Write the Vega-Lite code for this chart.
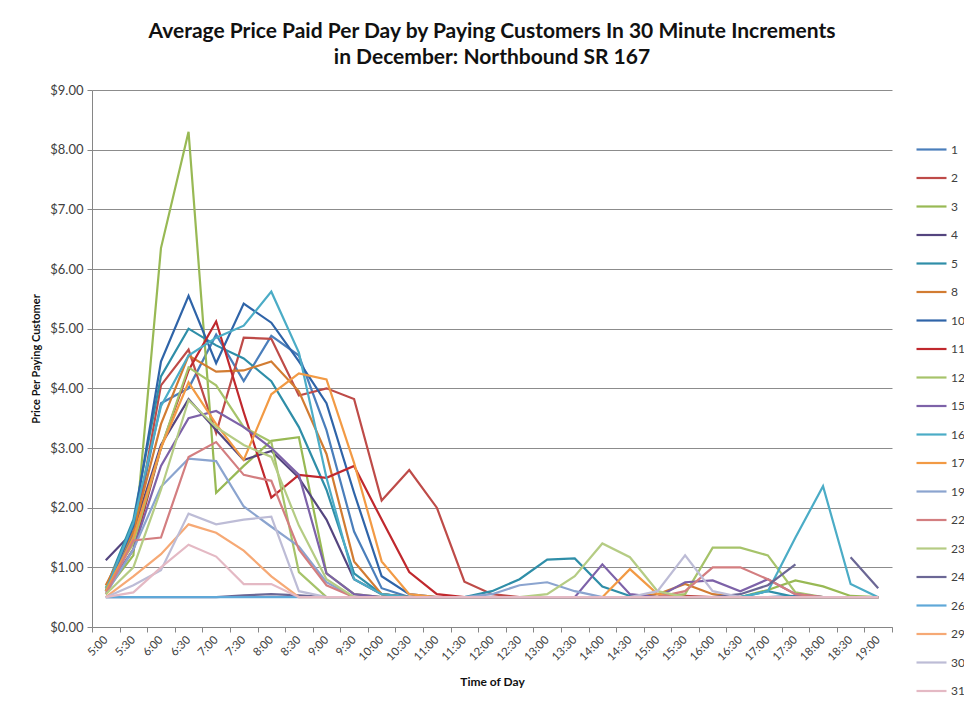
{
"$schema": "https://vega.github.io/schema/vega-lite/v6.json",
"width": 800, "height": 537,
"autosize": {"type": "none"},
"padding": {"left": 92, "top": 90, "right": 72, "bottom": 80},
"background": "white",
"title": {"text": ["Average Price Paid Per Day by Paying Customers In 30 Minute Increments", "in December: Northbound SR 167"], "font": "Lato", "fontSize": 21, "fontWeight": "bold", "color": "#111111", "lineHeight": 26, "anchor": "middle", "offset": 16},
"data": {"values": [
{"d":"1","t":"5:00","p":0.6},{"d":"1","t":"5:30","p":1.55},{"d":"1","t":"6:00","p":3.75},{"d":"1","t":"6:30","p":4.0},{"d":"1","t":"7:00","p":4.9},{"d":"1","t":"7:30","p":4.12},{"d":"1","t":"8:00","p":4.88},{"d":"1","t":"8:30","p":4.55},{"d":"1","t":"9:00","p":3.3},{"d":"1","t":"9:30","p":1.6},{"d":"1","t":"10:00","p":0.65},{"d":"1","t":"10:30","p":0.5},{"d":"1","t":"11:00","p":0.5},{"d":"1","t":"11:30","p":0.5},{"d":"1","t":"12:00","p":0.5},{"d":"1","t":"12:30","p":0.5},{"d":"1","t":"13:00","p":0.5},{"d":"1","t":"13:30","p":0.5},{"d":"1","t":"14:00","p":0.5},{"d":"1","t":"14:30","p":0.5},{"d":"1","t":"15:00","p":0.5},{"d":"1","t":"15:30","p":0.5},{"d":"1","t":"16:00","p":0.5},{"d":"1","t":"16:30","p":0.5},{"d":"1","t":"17:00","p":0.5},{"d":"1","t":"17:30","p":0.52},{"d":"1","t":"18:00","p":0.5},{"d":"1","t":"18:30","p":0.5},{"d":"1","t":"19:00","p":0.5},
{"d":"2","t":"5:00","p":0.6},{"d":"2","t":"5:30","p":1.45},{"d":"2","t":"6:00","p":4.05},{"d":"2","t":"6:30","p":4.65},{"d":"2","t":"7:00","p":3.25},{"d":"2","t":"7:30","p":4.85},{"d":"2","t":"8:00","p":4.83},{"d":"2","t":"8:30","p":3.88},{"d":"2","t":"9:00","p":4.0},{"d":"2","t":"9:30","p":3.82},{"d":"2","t":"10:00","p":2.12},{"d":"2","t":"10:30","p":2.63},{"d":"2","t":"11:00","p":2.0},{"d":"2","t":"11:30","p":0.76},{"d":"2","t":"12:00","p":0.55},{"d":"2","t":"12:30","p":0.5},{"d":"2","t":"13:00","p":0.5},{"d":"2","t":"13:30","p":0.5},{"d":"2","t":"14:00","p":0.5},{"d":"2","t":"14:30","p":0.5},{"d":"2","t":"15:00","p":0.5},{"d":"2","t":"15:30","p":0.52},{"d":"2","t":"16:00","p":0.5},{"d":"2","t":"16:30","p":0.5},{"d":"2","t":"17:00","p":0.5},{"d":"2","t":"17:30","p":0.5},{"d":"2","t":"18:00","p":0.5},{"d":"2","t":"18:30","p":0.5},{"d":"2","t":"19:00","p":0.5},
{"d":"3","t":"5:00","p":0.6},{"d":"3","t":"5:30","p":1.2},{"d":"3","t":"6:00","p":6.35},{"d":"3","t":"6:30","p":8.3},{"d":"3","t":"7:00","p":2.25},{"d":"3","t":"7:30","p":2.7},{"d":"3","t":"8:00","p":3.12},{"d":"3","t":"8:30","p":3.18},{"d":"3","t":"9:00","p":0.9},{"d":"3","t":"9:30","p":0.55},{"d":"3","t":"10:00","p":0.5},{"d":"3","t":"10:30","p":0.5},{"d":"3","t":"11:00","p":0.5},{"d":"3","t":"11:30","p":0.5},{"d":"3","t":"12:00","p":0.5},{"d":"3","t":"12:30","p":0.5},{"d":"3","t":"13:00","p":0.5},{"d":"3","t":"13:30","p":0.5},{"d":"3","t":"14:00","p":0.5},{"d":"3","t":"14:30","p":0.5},{"d":"3","t":"15:00","p":0.5},{"d":"3","t":"15:30","p":0.5},{"d":"3","t":"16:00","p":0.5},{"d":"3","t":"16:30","p":0.5},{"d":"3","t":"17:00","p":0.62},{"d":"3","t":"17:30","p":0.78},{"d":"3","t":"18:00","p":0.68},{"d":"3","t":"18:30","p":0.52},{"d":"3","t":"19:00","p":0.5},
{"d":"4","t":"5:00","p":1.12},{"d":"4","t":"5:30","p":1.6},{"d":"4","t":"6:00","p":3.05},{"d":"4","t":"6:30","p":3.82},{"d":"4","t":"7:00","p":3.3},{"d":"4","t":"7:30","p":2.8},{"d":"4","t":"8:00","p":2.95},{"d":"4","t":"8:30","p":2.5},{"d":"4","t":"9:00","p":1.8},{"d":"4","t":"9:30","p":0.8},{"d":"4","t":"10:00","p":0.55},{"d":"4","t":"10:30","p":0.5},{"d":"4","t":"11:00","p":0.5},{"d":"4","t":"11:30","p":0.5},{"d":"4","t":"12:00","p":0.5},{"d":"4","t":"12:30","p":0.5},{"d":"4","t":"13:00","p":0.5},{"d":"4","t":"13:30","p":0.5},{"d":"4","t":"14:00","p":0.5},{"d":"4","t":"14:30","p":0.5},{"d":"4","t":"15:00","p":0.5},{"d":"4","t":"15:30","p":0.5},{"d":"4","t":"16:00","p":0.5},{"d":"4","t":"16:30","p":0.5},{"d":"4","t":"17:00","p":0.5},{"d":"4","t":"17:30","p":0.5},{"d":"4","t":"18:00","p":0.5},{"d":"4","t":"18:30","p":0.5},{"d":"4","t":"19:00","p":0.5},
{"d":"5","t":"5:00","p":0.65},{"d":"5","t":"5:30","p":1.8},{"d":"5","t":"6:00","p":4.2},{"d":"5","t":"6:30","p":5.0},{"d":"5","t":"7:00","p":4.72},{"d":"5","t":"7:30","p":4.5},{"d":"5","t":"8:00","p":4.12},{"d":"5","t":"8:30","p":3.35},{"d":"5","t":"9:00","p":2.3},{"d":"5","t":"9:30","p":0.9},{"d":"5","t":"10:00","p":0.55},{"d":"5","t":"10:30","p":0.5},{"d":"5","t":"11:00","p":0.5},{"d":"5","t":"11:30","p":0.5},{"d":"5","t":"12:00","p":0.6},{"d":"5","t":"12:30","p":0.8},{"d":"5","t":"13:00","p":1.13},{"d":"5","t":"13:30","p":1.15},{"d":"5","t":"14:00","p":0.68},{"d":"5","t":"14:30","p":0.52},{"d":"5","t":"15:00","p":0.5},{"d":"5","t":"15:30","p":0.5},{"d":"5","t":"16:00","p":0.5},{"d":"5","t":"16:30","p":0.5},{"d":"5","t":"17:00","p":0.6},{"d":"5","t":"17:30","p":0.5},{"d":"5","t":"18:00","p":0.5},{"d":"5","t":"18:30","p":0.5},{"d":"5","t":"19:00","p":0.5},
{"d":"8","t":"5:00","p":0.7},{"d":"8","t":"5:30","p":1.6},{"d":"8","t":"6:00","p":3.4},{"d":"8","t":"6:30","p":4.55},{"d":"8","t":"7:00","p":4.28},{"d":"8","t":"7:30","p":4.3},{"d":"8","t":"8:00","p":4.45},{"d":"8","t":"8:30","p":3.95},{"d":"8","t":"9:00","p":2.9},{"d":"8","t":"9:30","p":1.1},{"d":"8","t":"10:00","p":0.55},{"d":"8","t":"10:30","p":0.5},{"d":"8","t":"11:00","p":0.5},{"d":"8","t":"11:30","p":0.5},{"d":"8","t":"12:00","p":0.5},{"d":"8","t":"12:30","p":0.5},{"d":"8","t":"13:00","p":0.5},{"d":"8","t":"13:30","p":0.5},{"d":"8","t":"14:00","p":0.5},{"d":"8","t":"14:30","p":0.5},{"d":"8","t":"15:00","p":0.55},{"d":"8","t":"15:30","p":0.72},{"d":"8","t":"16:00","p":0.55},{"d":"8","t":"16:30","p":0.5},{"d":"8","t":"17:00","p":0.5},{"d":"8","t":"17:30","p":0.5},{"d":"8","t":"18:00","p":0.5},{"d":"8","t":"18:30","p":0.5},{"d":"8","t":"19:00","p":0.5},
{"d":"10","t":"5:00","p":0.6},{"d":"10","t":"5:30","p":1.7},{"d":"10","t":"6:00","p":4.45},{"d":"10","t":"6:30","p":5.55},{"d":"10","t":"7:00","p":4.42},{"d":"10","t":"7:30","p":5.42},{"d":"10","t":"8:00","p":5.1},{"d":"10","t":"8:30","p":4.45},{"d":"10","t":"9:00","p":3.75},{"d":"10","t":"9:30","p":2.25},{"d":"10","t":"10:00","p":0.85},{"d":"10","t":"10:30","p":0.55},{"d":"10","t":"11:00","p":0.5},{"d":"10","t":"11:30","p":0.5},{"d":"10","t":"12:00","p":0.5},{"d":"10","t":"12:30","p":0.5},{"d":"10","t":"13:00","p":0.5},{"d":"10","t":"13:30","p":0.5},{"d":"10","t":"14:00","p":0.5},{"d":"10","t":"14:30","p":0.5},{"d":"10","t":"15:00","p":0.5},{"d":"10","t":"15:30","p":0.5},{"d":"10","t":"16:00","p":0.5},{"d":"10","t":"16:30","p":0.5},{"d":"10","t":"17:00","p":0.5},{"d":"10","t":"17:30","p":0.5},{"d":"10","t":"18:00","p":0.5},{"d":"10","t":"18:30","p":0.5},{"d":"10","t":"19:00","p":0.5},
{"d":"11","t":"5:00","p":0.6},{"d":"11","t":"5:30","p":1.3},{"d":"11","t":"6:00","p":3.0},{"d":"11","t":"6:30","p":4.3},{"d":"11","t":"7:00","p":5.12},{"d":"11","t":"7:30","p":3.6},{"d":"11","t":"8:00","p":2.17},{"d":"11","t":"8:30","p":2.55},{"d":"11","t":"9:00","p":2.5},{"d":"11","t":"9:30","p":2.7},{"d":"11","t":"10:00","p":1.8},{"d":"11","t":"10:30","p":0.92},{"d":"11","t":"11:00","p":0.55},{"d":"11","t":"11:30","p":0.5},{"d":"11","t":"12:00","p":0.5},{"d":"11","t":"12:30","p":0.5},{"d":"11","t":"13:00","p":0.5},{"d":"11","t":"13:30","p":0.5},{"d":"11","t":"14:00","p":0.5},{"d":"11","t":"14:30","p":0.5},{"d":"11","t":"15:00","p":0.5},{"d":"11","t":"15:30","p":0.5},{"d":"11","t":"16:00","p":0.5},{"d":"11","t":"16:30","p":0.5},{"d":"11","t":"17:00","p":0.5},{"d":"11","t":"17:30","p":0.5},{"d":"11","t":"18:00","p":0.5},{"d":"11","t":"18:30","p":0.5},{"d":"11","t":"19:00","p":0.5},
{"d":"12","t":"5:00","p":0.65},{"d":"12","t":"5:30","p":1.4},{"d":"12","t":"6:00","p":3.0},{"d":"12","t":"6:30","p":4.35},{"d":"12","t":"7:00","p":4.05},{"d":"12","t":"7:30","p":3.35},{"d":"12","t":"8:00","p":3.1},{"d":"12","t":"8:30","p":0.92},{"d":"12","t":"9:00","p":0.5},{"d":"12","t":"9:30","p":0.5},{"d":"12","t":"10:00","p":0.5},{"d":"12","t":"10:30","p":0.5},{"d":"12","t":"11:00","p":0.5},{"d":"12","t":"11:30","p":0.5},{"d":"12","t":"12:00","p":0.5},{"d":"12","t":"12:30","p":0.5},{"d":"12","t":"13:00","p":0.5},{"d":"12","t":"13:30","p":0.5},{"d":"12","t":"14:00","p":0.5},{"d":"12","t":"14:30","p":0.5},{"d":"12","t":"15:00","p":0.5},{"d":"12","t":"15:30","p":0.55},{"d":"12","t":"16:00","p":1.33},{"d":"12","t":"16:30","p":1.33},{"d":"12","t":"17:00","p":1.2},{"d":"12","t":"17:30","p":0.58},{"d":"12","t":"18:00","p":0.5},{"d":"12","t":"18:30","p":0.5},{"d":"12","t":"19:00","p":0.5},
{"d":"15","t":"5:00","p":0.6},{"d":"15","t":"5:30","p":1.3},{"d":"15","t":"6:00","p":2.7},{"d":"15","t":"6:30","p":3.5},{"d":"15","t":"7:00","p":3.62},{"d":"15","t":"7:30","p":3.35},{"d":"15","t":"8:00","p":3.0},{"d":"15","t":"8:30","p":2.55},{"d":"15","t":"9:00","p":0.9},{"d":"15","t":"9:30","p":0.55},{"d":"15","t":"10:00","p":0.5},{"d":"15","t":"10:30","p":0.5},{"d":"15","t":"11:00","p":0.5},{"d":"15","t":"11:30","p":0.5},{"d":"15","t":"12:00","p":0.5},{"d":"15","t":"12:30","p":0.5},{"d":"15","t":"13:00","p":0.5},{"d":"15","t":"13:30","p":0.5},{"d":"15","t":"14:00","p":1.05},{"d":"15","t":"14:30","p":0.55},{"d":"15","t":"15:00","p":0.5},{"d":"15","t":"15:30","p":0.75},{"d":"15","t":"16:00","p":0.78},{"d":"15","t":"16:30","p":0.6},{"d":"15","t":"17:00","p":0.8},{"d":"15","t":"17:30","p":0.55},{"d":"15","t":"18:00","p":0.5},{"d":"15","t":"18:30","p":0.5},{"d":"15","t":"19:00","p":0.5},
{"d":"16","t":"5:00","p":0.6},{"d":"16","t":"5:30","p":1.75},{"d":"16","t":"6:00","p":3.7},{"d":"16","t":"6:30","p":4.55},{"d":"16","t":"7:00","p":4.85},{"d":"16","t":"7:30","p":5.05},{"d":"16","t":"8:00","p":5.62},{"d":"16","t":"8:30","p":4.6},{"d":"16","t":"9:00","p":2.5},{"d":"16","t":"9:30","p":0.8},{"d":"16","t":"10:00","p":0.55},{"d":"16","t":"10:30","p":0.5},{"d":"16","t":"11:00","p":0.5},{"d":"16","t":"11:30","p":0.5},{"d":"16","t":"12:00","p":0.5},{"d":"16","t":"12:30","p":0.5},{"d":"16","t":"13:00","p":0.5},{"d":"16","t":"13:30","p":0.5},{"d":"16","t":"14:00","p":0.5},{"d":"16","t":"14:30","p":0.5},{"d":"16","t":"15:00","p":0.5},{"d":"16","t":"15:30","p":0.5},{"d":"16","t":"16:00","p":0.5},{"d":"16","t":"16:30","p":0.5},{"d":"16","t":"17:00","p":0.6},{"d":"16","t":"17:30","p":1.5},{"d":"16","t":"18:00","p":2.36},{"d":"16","t":"18:30","p":0.72},{"d":"16","t":"19:00","p":0.5},
{"d":"17","t":"5:00","p":0.6},{"d":"17","t":"5:30","p":1.5},{"d":"17","t":"6:00","p":3.0},{"d":"17","t":"6:30","p":4.1},{"d":"17","t":"7:00","p":3.4},{"d":"17","t":"7:30","p":2.8},{"d":"17","t":"8:00","p":3.9},{"d":"17","t":"8:30","p":4.25},{"d":"17","t":"9:00","p":4.15},{"d":"17","t":"9:30","p":2.75},{"d":"17","t":"10:00","p":1.1},{"d":"17","t":"10:30","p":0.55},{"d":"17","t":"11:00","p":0.5},{"d":"17","t":"11:30","p":0.5},{"d":"17","t":"12:00","p":0.5},{"d":"17","t":"12:30","p":0.5},{"d":"17","t":"13:00","p":0.5},{"d":"17","t":"13:30","p":0.5},{"d":"17","t":"14:00","p":0.5},{"d":"17","t":"14:30","p":0.97},{"d":"17","t":"15:00","p":0.55},{"d":"17","t":"15:30","p":0.5},{"d":"17","t":"16:00","p":0.5},{"d":"17","t":"16:30","p":0.5},{"d":"17","t":"17:00","p":0.5},{"d":"17","t":"17:30","p":0.5},{"d":"17","t":"18:00","p":0.5},{"d":"17","t":"18:30","p":0.5},{"d":"17","t":"19:00","p":0.5},
{"d":"19","t":"5:00","p":0.55},{"d":"19","t":"5:30","p":1.3},{"d":"19","t":"6:00","p":2.35},{"d":"19","t":"6:30","p":2.82},{"d":"19","t":"7:00","p":2.78},{"d":"19","t":"7:30","p":2.02},{"d":"19","t":"8:00","p":1.68},{"d":"19","t":"8:30","p":1.35},{"d":"19","t":"9:00","p":0.75},{"d":"19","t":"9:30","p":0.5},{"d":"19","t":"10:00","p":0.5},{"d":"19","t":"10:30","p":0.5},{"d":"19","t":"11:00","p":0.5},{"d":"19","t":"11:30","p":0.5},{"d":"19","t":"12:00","p":0.55},{"d":"19","t":"12:30","p":0.7},{"d":"19","t":"13:00","p":0.75},{"d":"19","t":"13:30","p":0.6},{"d":"19","t":"14:00","p":0.5},{"d":"19","t":"14:30","p":0.5},{"d":"19","t":"15:00","p":0.5},{"d":"19","t":"15:30","p":0.5},{"d":"19","t":"16:00","p":0.5},{"d":"19","t":"16:30","p":0.5},{"d":"19","t":"17:00","p":0.5},{"d":"19","t":"17:30","p":0.5},{"d":"19","t":"18:00","p":0.5},{"d":"19","t":"18:30","p":0.5},{"d":"19","t":"19:00","p":0.5},
{"d":"22","t":"5:00","p":0.55},{"d":"22","t":"5:30","p":1.45},{"d":"22","t":"6:00","p":1.5},{"d":"22","t":"6:30","p":2.85},{"d":"22","t":"7:00","p":3.1},{"d":"22","t":"7:30","p":2.55},{"d":"22","t":"8:00","p":2.45},{"d":"22","t":"8:30","p":1.3},{"d":"22","t":"9:00","p":0.7},{"d":"22","t":"9:30","p":0.5},{"d":"22","t":"10:00","p":0.5},{"d":"22","t":"10:30","p":0.5},{"d":"22","t":"11:00","p":0.5},{"d":"22","t":"11:30","p":0.5},{"d":"22","t":"12:00","p":0.5},{"d":"22","t":"12:30","p":0.5},{"d":"22","t":"13:00","p":0.5},{"d":"22","t":"13:30","p":0.5},{"d":"22","t":"14:00","p":0.5},{"d":"22","t":"14:30","p":0.5},{"d":"22","t":"15:00","p":0.5},{"d":"22","t":"15:30","p":0.6},{"d":"22","t":"16:00","p":1.0},{"d":"22","t":"16:30","p":1.0},{"d":"22","t":"17:00","p":0.8},{"d":"22","t":"17:30","p":0.55},{"d":"22","t":"18:00","p":0.5},{"d":"22","t":"18:30","p":0.5},{"d":"22","t":"19:00","p":0.5},
{"d":"23","t":"5:00","p":0.55},{"d":"23","t":"5:30","p":1.0},{"d":"23","t":"6:00","p":2.3},{"d":"23","t":"6:30","p":3.8},{"d":"23","t":"7:00","p":3.35},{"d":"23","t":"7:30","p":3.05},{"d":"23","t":"8:00","p":2.85},{"d":"23","t":"8:30","p":1.7},{"d":"23","t":"9:00","p":0.8},{"d":"23","t":"9:30","p":0.5},{"d":"23","t":"10:00","p":0.5},{"d":"23","t":"10:30","p":0.5},{"d":"23","t":"11:00","p":0.5},{"d":"23","t":"11:30","p":0.5},{"d":"23","t":"12:00","p":0.5},{"d":"23","t":"12:30","p":0.5},{"d":"23","t":"13:00","p":0.55},{"d":"23","t":"13:30","p":0.85},{"d":"23","t":"14:00","p":1.4},{"d":"23","t":"14:30","p":1.17},{"d":"23","t":"15:00","p":0.6},{"d":"23","t":"15:30","p":0.5},{"d":"23","t":"16:00","p":0.5},{"d":"23","t":"16:30","p":0.5},{"d":"23","t":"17:00","p":0.5},{"d":"23","t":"17:30","p":0.5},{"d":"23","t":"18:00","p":0.5},{"d":"23","t":"18:30","p":0.5},{"d":"23","t":"19:00","p":0.5},
{"d":"24","t":"5:00","p":0.5},{"d":"24","t":"5:30","p":0.5},{"d":"24","t":"6:00","p":0.5},{"d":"24","t":"6:30","p":0.5},{"d":"24","t":"7:00","p":0.5},{"d":"24","t":"7:30","p":0.53},{"d":"24","t":"8:00","p":0.55},{"d":"24","t":"8:30","p":0.53},{"d":"24","t":"9:00","p":0.5},{"d":"24","t":"9:30","p":0.5},{"d":"24","t":"10:00","p":0.5},{"d":"24","t":"10:30","p":0.5},{"d":"24","t":"11:00","p":0.5},{"d":"24","t":"11:30","p":0.5},{"d":"24","t":"12:00","p":0.5},{"d":"24","t":"12:30","p":0.5},{"d":"24","t":"13:00","p":0.5},{"d":"24","t":"13:30","p":0.5},{"d":"24","t":"14:00","p":0.5},{"d":"24","t":"14:30","p":0.5},{"d":"24","t":"15:00","p":0.5},{"d":"24","t":"15:30","p":0.5},{"d":"24","t":"16:00","p":0.5},{"d":"24","t":"16:30","p":0.55},{"d":"24","t":"17:00","p":0.7},{"d":"24","t":"17:30","p":1.05},{"d":"24","t":"18:00","p":null},{"d":"24","t":"18:30","p":1.17},{"d":"24","t":"19:00","p":0.65},
{"d":"26","t":"5:00","p":0.5},{"d":"26","t":"5:30","p":0.5},{"d":"26","t":"6:00","p":0.5},{"d":"26","t":"6:30","p":0.5},{"d":"26","t":"7:00","p":0.5},{"d":"26","t":"7:30","p":0.5},{"d":"26","t":"8:00","p":0.5},{"d":"26","t":"8:30","p":0.5},{"d":"26","t":"9:00","p":0.5},{"d":"26","t":"9:30","p":0.5},{"d":"26","t":"10:00","p":0.5},{"d":"26","t":"10:30","p":0.5},{"d":"26","t":"11:00","p":0.5},{"d":"26","t":"11:30","p":0.5},{"d":"26","t":"12:00","p":0.5},{"d":"26","t":"12:30","p":0.5},{"d":"26","t":"13:00","p":0.5},{"d":"26","t":"13:30","p":0.5},{"d":"26","t":"14:00","p":0.5},{"d":"26","t":"14:30","p":0.5},{"d":"26","t":"15:00","p":0.5},{"d":"26","t":"15:30","p":0.5},{"d":"26","t":"16:00","p":0.5},{"d":"26","t":"16:30","p":0.5},{"d":"26","t":"17:00","p":0.5},{"d":"26","t":"17:30","p":0.5},{"d":"26","t":"18:00","p":0.5},{"d":"26","t":"18:30","p":0.5},{"d":"26","t":"19:00","p":0.5},
{"d":"29","t":"5:00","p":0.5},{"d":"29","t":"5:30","p":0.85},{"d":"29","t":"6:00","p":1.22},{"d":"29","t":"6:30","p":1.72},{"d":"29","t":"7:00","p":1.58},{"d":"29","t":"7:30","p":1.28},{"d":"29","t":"8:00","p":0.85},{"d":"29","t":"8:30","p":0.5},{"d":"29","t":"9:00","p":0.5},{"d":"29","t":"9:30","p":0.5},{"d":"29","t":"10:00","p":0.5},{"d":"29","t":"10:30","p":0.5},{"d":"29","t":"11:00","p":0.5},{"d":"29","t":"11:30","p":0.5},{"d":"29","t":"12:00","p":0.5},{"d":"29","t":"12:30","p":0.5},{"d":"29","t":"13:00","p":0.5},{"d":"29","t":"13:30","p":0.5},{"d":"29","t":"14:00","p":0.5},{"d":"29","t":"14:30","p":0.5},{"d":"29","t":"15:00","p":0.5},{"d":"29","t":"15:30","p":0.5},{"d":"29","t":"16:00","p":0.5},{"d":"29","t":"16:30","p":0.5},{"d":"29","t":"17:00","p":0.5},{"d":"29","t":"17:30","p":0.5},{"d":"29","t":"18:00","p":0.5},{"d":"29","t":"18:30","p":0.5},{"d":"29","t":"19:00","p":0.5},
{"d":"30","t":"5:00","p":0.5},{"d":"30","t":"5:30","p":0.7},{"d":"30","t":"6:00","p":0.95},{"d":"30","t":"6:30","p":1.9},{"d":"30","t":"7:00","p":1.72},{"d":"30","t":"7:30","p":1.8},{"d":"30","t":"8:00","p":1.85},{"d":"30","t":"8:30","p":0.6},{"d":"30","t":"9:00","p":0.5},{"d":"30","t":"9:30","p":0.5},{"d":"30","t":"10:00","p":0.5},{"d":"30","t":"10:30","p":0.5},{"d":"30","t":"11:00","p":0.5},{"d":"30","t":"11:30","p":0.5},{"d":"30","t":"12:00","p":0.5},{"d":"30","t":"12:30","p":0.5},{"d":"30","t":"13:00","p":0.5},{"d":"30","t":"13:30","p":0.5},{"d":"30","t":"14:00","p":0.5},{"d":"30","t":"14:30","p":0.5},{"d":"30","t":"15:00","p":0.6},{"d":"30","t":"15:30","p":1.2},{"d":"30","t":"16:00","p":0.6},{"d":"30","t":"16:30","p":0.5},{"d":"30","t":"17:00","p":0.5},{"d":"30","t":"17:30","p":0.5},{"d":"30","t":"18:00","p":0.5},{"d":"30","t":"18:30","p":0.5},{"d":"30","t":"19:00","p":0.5},
{"d":"31","t":"5:00","p":0.5},{"d":"31","t":"5:30","p":0.58},{"d":"31","t":"6:00","p":1.0},{"d":"31","t":"6:30","p":1.38},{"d":"31","t":"7:00","p":1.18},{"d":"31","t":"7:30","p":0.72},{"d":"31","t":"8:00","p":0.72},{"d":"31","t":"8:30","p":0.5},{"d":"31","t":"9:00","p":0.5},{"d":"31","t":"9:30","p":0.5},{"d":"31","t":"10:00","p":0.5},{"d":"31","t":"10:30","p":0.5},{"d":"31","t":"11:00","p":0.5},{"d":"31","t":"11:30","p":0.5},{"d":"31","t":"12:00","p":0.5},{"d":"31","t":"12:30","p":0.5},{"d":"31","t":"13:00","p":0.5},{"d":"31","t":"13:30","p":0.5},{"d":"31","t":"14:00","p":0.5},{"d":"31","t":"14:30","p":0.5},{"d":"31","t":"15:00","p":0.5},{"d":"31","t":"15:30","p":0.5},{"d":"31","t":"16:00","p":0.5},{"d":"31","t":"16:30","p":0.5},{"d":"31","t":"17:00","p":0.5},{"d":"31","t":"17:30","p":0.5},{"d":"31","t":"18:00","p":0.5},{"d":"31","t":"18:30","p":0.5},{"d":"31","t":"19:00","p":0.5}
]},
"mark": {"type": "line", "strokeWidth": 2.2},
"encoding": {
  "x": {"field": "t", "type": "ordinal",
    "scale": {"type": "band", "paddingInner": 0, "paddingOuter": 0, "domain": ["5:00","5:30","6:00","6:30","7:00","7:30","8:00","8:30","9:00","9:30","10:00","10:30","11:00","11:30","12:00","12:30","13:00","13:30","14:00","14:30","15:00","15:30","16:00","16:30","17:00","17:30","18:00","18:30","19:00"]},
    "axis": {"title": "Time of Day", "titleFont": "Lato", "titleFontSize": 12, "titleFontWeight": "bold", "titleColor": "#111111", "titlePadding": 14,
      "labelAngle": -45, "labelAlign": "right", "labelBaseline": "middle", "labelFont": "Lato", "labelFontSize": 11.5, "labelColor": "#404040", "labelPadding": 6,
      "tickBand": "extent", "tickSize": 5, "tickColor": "#868686", "domainColor": "#868686", "grid": false}},
  "y": {"field": "p", "type": "quantitative", "scale": {"domain": [0, 9], "nice": false},
    "axis": {"title": "Price Per Paying Customer", "format": "$.2f", "values": [0,1,2,3,4,5,6,7,8,9],
      "grid": true, "gridColor": "#8c8c8c", "domainColor": "#868686", "tickColor": "#868686", "tickSize": 5,
      "labelFont": "Lato", "labelFontSize": 13, "labelColor": "#404040", "labelPadding": 4,
      "titleFont": "Lato", "titleFontSize": 11, "titleFontWeight": "bold", "titleColor": "#111111", "titlePadding": 8}},
  "color": {"field": "d", "type": "nominal",
    "scale": {"domain": ["1","2","3","4","5","8","10","11","12","15","16","17","19","22","23","24","26","29","30","31"],
      "range": ["#4A7EBB","#BE4B48","#98B954","#54457F","#2F8EA8","#D27C32","#2F64A8","#C0282D","#A6C36A","#7D62A8","#4BACC6","#F29A44","#8BA4CF","#D37E80","#B5CC84","#6B6795","#5FA8D8","#F6A975","#BDBCD6","#E4B9C4"]},
    "legend": {"orient": "none", "legendX": 823, "legendY": 43, "title": null, "symbolType": "stroke", "symbolSize": 900, "symbolStrokeWidth": 2.2,
      "labelFont": "Lato", "labelFontSize": 12, "labelColor": "#404040", "rowPadding": 5.5, "labelOffset": 3}}
},
"config": {"view": {"stroke": null}}
}
